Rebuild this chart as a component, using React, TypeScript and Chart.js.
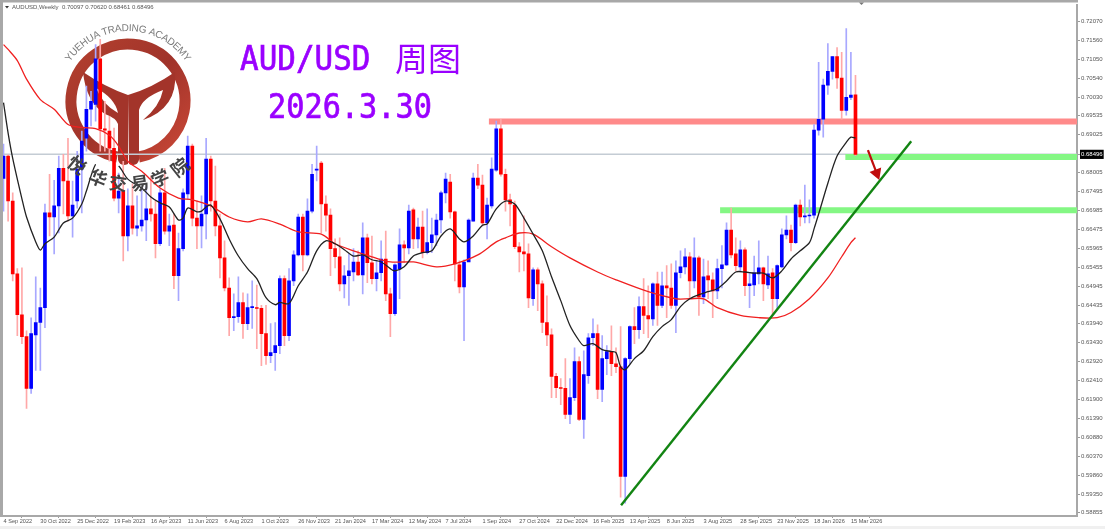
import React, { useEffect, useRef } from "react";
import { Chart, registerables } from "chart.js";

Chart.register(...registerables);

const xTickLabels = ["4 Sep 2022","30 Oct 2022","25 Dec 2022","19 Feb 2023","16 Apr 2023","11 Jun 2023","6 Aug 2023","1 Oct 2023","26 Nov 2023","21 Jan 2024","17 Mar 2024","12 May 2024","7 Jul 2024","1 Sep 2024","27 Oct 2024","22 Dec 2024","16 Feb 2025","13 Apr 2025","8 Jun 2025","3 Aug 2025","28 Sep 2025","23 Nov 2025","18 Jan 2026","15 Mar 2026"];
const xTickStep = 8;
const priceTicks = [0.7207,0.7156,0.7105,0.7054,0.7003,0.69535,0.69025,0.68496,0.68005,0.67495,0.66985,0.66475,0.65965,0.65455,0.64945,0.64435,0.6394,0.6343,0.6292,0.6241,0.619,0.6139,0.6088,0.6037,0.5986,0.5935,0.58855];
const currentPrice = 0.68496;

const opens = [
.6785,.6845,.6724,.6528,.6418,.6359,.6220,.6364,.6397,.6437,
.6692,.6681,.6711,.6812,.6778,.6684,.6724,.6810,.6893,.6971,
.6984,.7107,.6918,.6912,.6866,.6732,.6751,.6630,.6711,.6651,
.6657,.6673,.6703,.6689,.6609,.6746,.6643,.6659,.6523,.6596,
.6743,.6872,.6678,.6657,.6689,.6837,.6724,.6657,.6571,.6490,
.6410,.6413,.6451,.6394,.6437,.6437,.6435,.6367,.6308,.6316,
.6335,.6515,.6362,.6509,.6579,.6681,.6579,.6697,.6807,.6826,
.6716,.6686,.6596,.6574,.6501,.6523,.6533,.6560,.6525,.6625,
.6558,.6515,.6531,.6568,.6474,.6421,.6541,.6606,.6598,.6700,
.6622,.6654,.6585,.6612,.6633,.6673,.6746,.6775,.6695,.6552,
.6493,.6560,.6670,.6786,.6767,.6665,.6711,.6807,.6918,.6796,
.6727,.6713,.6601,.6587,.6582,.6461,.6539,.6501,.6397,.6364,
.6252,.6222,.6220,.6150,.6195,.6292,.6136,.6254,.6356,.6367,
.6217,.6300,.6319,.6286,.6278,.5983,.6300,.6386,.6378,.6440,
.6416,.6407,.6501,.6443,.6496,.6490,.6443,.6531,.6547,.6574,
.6509,.6571,.6466,.6523,.6512,.6482,.6542,.6552,.6646,.6582,
.6547,.6593,.6496,.6498,.6528,.6544,.6498,.6531,.6461,.6547,
.6633,.6646,.6612,.6713,.6681,.6684,.6686,.6915,.6944,.7036,
.7073,.7113,.7055,.6968,.7003,.70097];
const highs = [
.6877,.6848,.6746,.6542,.6544,.6375,.6410,.6520,.6490,.6716,
.6796,.6780,.6845,.6850,.6893,.6778,.6858,.6912,.7033,.7019,
.7145,.7159,.6992,.6952,.6920,.6799,.6831,.6757,.6770,.6738,
.6757,.6762,.6791,.6724,.6757,.6812,.6689,.6689,.6638,.6757,
.6899,.6877,.6724,.6738,.6893,.6845,.6818,.6689,.6617,.6517,
.6474,.6520,.6477,.6474,.6509,.6498,.6443,.6443,.6394,.6397,
.6523,.6523,.6542,.6590,.6689,.6689,.6730,.6823,.6872,.6831,
.6738,.6703,.6622,.6625,.6550,.6582,.6596,.6590,.6665,.6635,
.6630,.6563,.6617,.6643,.6490,.6555,.6649,.6617,.6713,.6705,
.6678,.6697,.6703,.6678,.6689,.6751,.6799,.6796,.6697,.6563,
.6566,.6676,.6799,.6823,.6794,.6732,.6840,.6939,.6944,.6810,
.6743,.6724,.6612,.6684,.6609,.6544,.6544,.6509,.6469,.6380,
.6260,.6246,.6300,.6246,.6329,.6305,.6321,.6367,.6407,.6391,
.6362,.6335,.6388,.6329,.6386,.6303,.6388,.6437,.6466,.6515,
.6496,.6504,.6533,.6533,.6550,.6555,.6563,.6590,.6596,.6585,
.6625,.6576,.6568,.6563,.6531,.6568,.6604,.6665,.6705,.6625,
.6617,.6598,.6531,.6576,.6617,.6546,.6576,.6542,.6552,.6649,
.6684,.6659,.6716,.6727,.6767,.6727,.6930,.7097,.7052,.7148,
.7113,.7137,.7124,.7188,.7124,.7062];
const lows = [
.6697,.6670,.6509,.6362,.6340,.6166,.6206,.6268,.6268,.6383,
.6630,.6582,.6638,.6689,.6670,.6627,.6705,.6692,.6858,.6926,
.6939,.6858,.6858,.6831,.6724,.6692,.6563,.6590,.6635,.6630,
.6643,.6617,.6670,.6571,.6604,.6635,.6604,.6488,.6456,.6590,
.6730,.6657,.6596,.6598,.6622,.6697,.6630,.6517,.6482,.6362,
.6375,.6397,.6354,.6378,.6381,.6327,.6281,.6284,.6289,.6268,
.6313,.6335,.6348,.6496,.6576,.6536,.6576,.6692,.6778,.6638,
.6643,.6523,.6544,.6482,.6463,.6443,.6509,.6523,.6474,.6504,
.6501,.6482,.6509,.6456,.6359,.6416,.6461,.6558,.6582,.6596,
.6598,.6571,.6582,.6585,.6604,.6638,.6719,.6678,.6509,.6477,
.6348,.6563,.6670,.6757,.6657,.6622,.6705,.6804,.6791,.6697,
.6657,.6596,.6533,.6536,.6437,.6443,.6429,.6370,.6335,.6195,
.6195,.6176,.6138,.6125,.6187,.6133,.6085,.6233,.6335,.6192,
.6184,.6257,.6254,.6262,.5927,.5911,.6286,.6340,.6354,.6367,
.6356,.6389,.6389,.6437,.6410,.6435,.6370,.6517,.6528,.6461,
.6490,.6416,.6448,.6461,.6410,.6461,.6490,.6550,.6571,.6536,
.6536,.6469,.6437,.6469,.6501,.6456,.6488,.6416,.6435,.6544,
.6622,.6590,.6609,.6657,.6665,.6665,.6678,.6901,.6896,.7011,
.7052,.7027,.6944,.6955,.6997,.68461];
const closes = [
.6845,.6724,.6528,.6418,.6359,.6220,.6367,.6397,.6437,.6692,
.6681,.6711,.6812,.6778,.6684,.6713,.6810,.6885,.6971,.6992,
.7107,.6918,.6915,.6866,.6732,.6751,.6630,.6711,.6651,.6657,
.6673,.6703,.6689,.6609,.6746,.6643,.6657,.6523,.6596,.6746,
.6872,.6678,.6657,.6689,.6837,.6724,.6657,.6571,.6490,.6410,
.6413,.6451,.6394,.6437,.6440,.6435,.6367,.6308,.6316,.6335,
.6515,.6362,.6509,.6579,.6681,.6579,.6697,.6796,.6810,.6716,
.6686,.6596,.6574,.6501,.6523,.6536,.6560,.6525,.6625,.6558,
.6515,.6531,.6568,.6474,.6421,.6552,.6606,.6598,.6697,.6622,
.6654,.6585,.6612,.6633,.6673,.6746,.6783,.6695,.6555,.6493,
.6560,.6673,.6786,.6767,.6665,.6713,.6810,.6918,.6796,.6727,
.6716,.6601,.6587,.6582,.6463,.6539,.6501,.6397,.6364,.6252,
.6222,.6220,.6150,.6195,.6292,.6136,.6257,.6356,.6367,.6217,
.6300,.6319,.6286,.6278,.5983,.6300,.6386,.6378,.6440,.6416,
.6407,.6501,.6443,.6496,.6490,.6443,.6531,.6547,.6574,.6509,
.6571,.6466,.6520,.6512,.6482,.6542,.6552,.6646,.6579,.6550,
.6593,.6496,.6501,.6531,.6544,.6501,.6528,.6461,.6550,.6633,
.6646,.6612,.6713,.6681,.6684,.6686,.6915,.6944,.7036,.7073,
.7113,.7055,.6968,.7003,.7009,.68496];

const maBlackIndex = [0,1,2,4,5,7,8,9,11,13,15,17,18,20,22,25,27,30,32,34,36,38,39,40,42,43,44,45,47,49,51,53,55,57,59,60,62,64,66,68,70,72,74,76,78,80,82,84,85,87,89,91,93,95,97,99,100,102,104,105,107,109,111,113,115,117,119,121,123,125,126,128,130,132,133,134,135,137,139,141,143,145,147,149,151,153,155,157,159,161,163,165,167,169,171,173,175,176,177,179,181,183,184,185];
const maBlackValue = [.6989,.6907,.6839,.6730,.6681,.6614,.6592,.6609,.6627,.6665,.6678,.6716,.6751,.6823,.6839,.6818,.6783,.6759,.6735,.6719,.6708,.6673,.6678,.6705,.6695,.6697,.6708,.6713,.6676,.6622,.6576,.6542,.6515,.6464,.6445,.6451,.6448,.6496,.6533,.6590,.6617,.6609,.6593,.6576,.6579,.6566,.6560,.6542,.6536,.6547,.6576,.6585,.6590,.6630,.6649,.6622,.6614,.6630,.6659,.6662,.6703,.6724,.6716,.6678,.6635,.6590,.6520,.6456,.6389,.6348,.6335,.6340,.6324,.6319,.6316,.6278,.6270,.6300,.6321,.6359,.6386,.6405,.6440,.6461,.6472,.6480,.6488,.6509,.6533,.6533,.6530,.6530,.6517,.6536,.6568,.6590,.6612,.6649,.6689,.6772,.6845,.6882,.6896,.6893];
const maRedIndex = [0,1,3,5,8,11,14,17,20,23,25,27,30,34,38,41,45,49,53,56,60,64,69,72,76,80,84,89,94,98,103,107,109,112,115,119,123,129,133,140,146,149,152,155,160,164,168,171,175,179,182,184,185];
const maRedValue = [.7145,.7132,.7102,.7052,.6997,.6971,.6930,.6922,.6919,.6901,.6872,.6831,.6804,.6759,.6732,.6727,.6711,.6681,.6668,.6676,.6662,.6641,.6635,.6609,.6590,.6574,.6560,.6560,.6547,.6555,.6579,.6614,.6625,.6638,.6635,.6601,.6571,.6533,.6512,.6480,.6461,.6461,.6461,.6437,.6416,.6410,.6410,.6424,.6461,.6517,.6574,.6612,.6625];

const resistanceLevel = 0.69377;
const resistanceFrom = 105.4;
const upperSupportLevel = 0.68425;
const upperSupportFrom = 182.8;
const lowerSupportLevel = 0.6699;
const lowerSupportFrom = 155.6;
const trendIndex = [134.1, 197.1];
const trendValue = [0.5905, 0.6885];
const arrowIndex = [187.7, 189.6];
const arrowValue = [0.6861, 0.6799];

const xMin = -0.11;
const xMax = 233.1;
const yMin = 0.58764;
const yMax = 0.72526;

const BLUE = "#0000ff";
const RED = "#ff0000";
const pairs = (xs: number[], ys: number[]) => xs.map((x, i) => ({ x, y: ys[i] }));
const hLine = (from: number, level: number) => [{ x: from, y: level }, { x: xMax, y: level }];

const framePlugin = {
  id: "frame",
  beforeDraw(chart: any) {
    const { ctx, chartArea: a, width, height } = chart;
    ctx.save();
    ctx.fillStyle = "#f0f0f0";
    ctx.fillRect(0, 0, width, height);
    ctx.fillStyle = "#ffffff";
    ctx.fillRect(0, 0, width, height - 3);
    ctx.fillStyle = "#a8a8a8";
    ctx.fillRect(0, 0, a.right + 1, 2.5);
    ctx.fillRect(0, 0, 3, a.bottom + 1);
    ctx.restore();
  },
};

const logoPlugin = {
  id: "logo",
  beforeDatasetsDraw(chart: any) {
    const ctx = chart.ctx;
    const cx = 128, cy = 101;
    ctx.save();
    const g = ctx.createLinearGradient(65, 40, 191, 165);
    g.addColorStop(0, "#b5412f");
    g.addColorStop(0.5, "#a0332a");
    g.addColorStop(1, "#cf4a38");
    ctx.strokeStyle = g;
    ctx.fillStyle = "#a3342a";
    ctx.lineWidth = 11;
    ctx.beginPath();
    ctx.arc(cx, cy, 57, Math.PI * 0.5 + 0.19, Math.PI * 0.5 - 0.19);
    ctx.stroke();
    ctx.beginPath();
    ctx.moveTo(83, 72);
    ctx.quadraticCurveTo(105, 87, 128, 95);
    ctx.lineTo(128, 164);
    ctx.quadraticCurveTo(120, 167, 118, 160);
    ctx.lineTo(118, 124);
    ctx.quadraticCurveTo(116, 118, 105, 114);
    ctx.quadraticCurveTo(86, 102, 83, 72);
    ctx.closePath();
    ctx.fill();
    ctx.beginPath();
    ctx.moveTo(128, 95);
    ctx.quadraticCurveTo(152, 88, 175, 72);
    ctx.quadraticCurveTo(178, 108, 143, 120);
    ctx.quadraticCurveTo(160, 106, 163, 90);
    ctx.quadraticCurveTo(142, 98, 139, 110);
    ctx.lineTo(139, 160);
    ctx.quadraticCurveTo(137, 167, 129, 164);
    ctx.closePath();
    ctx.fill();
    ctx.fillStyle = "#ffffff";
    ctx.beginPath();
    ctx.moveTo(96, 88);
    ctx.quadraticCurveTo(103, 105, 118, 113);
    ctx.quadraticCurveTo(115, 98, 96, 88);
    ctx.fill();

    ctx.fillStyle = "#7a7a7a";
    ctx.font = "10px 'Liberation Sans'";
    ctx.textAlign = "center";
    ctx.textBaseline = "alphabetic";
    const ring = "YUEHUA TRADING ACADEMY";
    const widths = [...ring].map((ch) => ctx.measureText(ch).width);
    const total = widths.reduce((a, b) => a + b, 0);
    const start = -146 * Math.PI / 180, end = -34 * Math.PI / 180;
    let run = 0;
    [...ring].forEach((ch, i) => {
      const t = start + (end - start) * (run + widths[i] / 2) / total;
      run += widths[i];
      ctx.save();
      ctx.translate(cx + 70 * Math.cos(t), cy + 70 * Math.sin(t));
      ctx.rotate(t + Math.PI / 2);
      ctx.fillText(ch, 0, 0);
      ctx.restore();
    });
    ctx.restore();
  },
  afterDatasetsDraw(chart: any) {
    const ctx = chart.ctx;
    const cx = 128, cy = 101;
    ctx.save();
    ctx.fillStyle = "#444444";
    ctx.font = "bold 18px 'Noto Sans CJK SC'";
    ctx.textAlign = "center";
    ctx.textBaseline = "middle";
    const seal = ["悦", "华", "交", "易", "学", "院"];
    const sealX = [77, 98, 118, 140, 160, 180];
    const sealY = [165, 178, 183, 183, 178, 167];
    seal.forEach((ch, i) => {
      ctx.save();
      ctx.translate(sealX[i], sealY[i]);
      ctx.rotate(Math.atan2(cx - sealX[i], sealY[i] - cy));
      ctx.fillText(ch, 0, 0);
      ctx.restore();
    });
    ctx.restore();
  },
};

const textPlugin = {
  id: "texts",
  afterDraw(chart: any) {
    const ctx = chart.ctx;
    ctx.save();
    ctx.fillStyle = "#9a00ff";
    ctx.strokeStyle = "#9a00ff";
    ctx.lineWidth = 0.7;
    ctx.textBaseline = "alphabetic";
    ctx.textAlign = "left";
    ctx.font = "34px 'DejaVu Sans Mono'";
    ctx.save();
    ctx.translate(240, 70);
    ctx.scale(0.91, 1);
    ctx.fillText("AUD/USD", 0, 0);
    ctx.strokeText("AUD/USD", 0, 0);
    ctx.restore();
    ctx.save();
    ctx.translate(268, 118);
    ctx.scale(0.89, 1);
    ctx.fillText("2026.3.30", 0, 0);
    ctx.strokeText("2026.3.30", 0, 0);
    ctx.restore();
    ctx.font = "33px 'Noto Sans CJK SC'";
    ctx.fillText("周图", 395, 71);

    ctx.fillStyle = "#555555";
    ctx.font = "6px 'Liberation Sans'";
    ctx.textBaseline = "middle";
    ctx.fillText("AUDUSD,Weekly  0.70097 0.70620 0.68461 0.68496", 12, 7.5);
    ctx.fillStyle = "#333333";
    ctx.beginPath();
    ctx.moveTo(5, 6); ctx.lineTo(9, 6); ctx.lineTo(7, 8.5);
    ctx.fill();
    ctx.fillStyle = "#777777";
    ctx.beginPath();
    ctx.moveTo(859, 2.5); ctx.lineTo(864, 2.5); ctx.lineTo(861.5, 5);
    ctx.fill();
    ctx.restore();
  },
};

export default function App() {
  const ref = useRef<HTMLCanvasElement | null>(null);
  useEffect(() => {
    const candleColor = (i: number, up: string, down: string) => (closes[i] >= opens[i] ? up : down);
    const chart = new Chart(ref.current as HTMLCanvasElement, {
      type: "bar",
      data: {
        datasets: [
          { type: "line", label: "Current", order: 10, data: hLine(xMin, currentPrice), borderColor: "#c4ccd4", borderWidth: 1.5, pointRadius: 0 },
          { type: "line", label: "Resistance", order: 9, data: hLine(resistanceFrom, resistanceLevel), borderColor: "#ff8a8a", borderWidth: 6, pointRadius: 0 },
          { type: "line", label: "Support 1", order: 9, data: hLine(upperSupportFrom, upperSupportLevel), borderColor: "#84f784", borderWidth: 6, pointRadius: 0 },
          { type: "line", label: "Support 2", order: 9, data: hLine(lowerSupportFrom, lowerSupportLevel), borderColor: "#84f784", borderWidth: 6, pointRadius: 0 },
          {
            type: "bar", label: "Wick", order: 8, grouped: false, barThickness: 1,
            data: highs.map((h, i) => ({ x: i, y: [lows[i], h] })),
            backgroundColor: (c: any) => candleColor(c.dataIndex, "#a8a8ff", "#ffa8a8"),
          },
          {
            type: "bar", label: "Body", order: 7, grouped: false, barThickness: 3,
            data: opens.map((o, i) => ({ x: i, y: [o, closes[i]] })),
            backgroundColor: (c: any) => candleColor(c.dataIndex, BLUE, RED),
          },
          { type: "line", label: "MA red", order: 6, data: pairs(maRedIndex, maRedValue), borderColor: "#f02020", borderWidth: 1.3, pointRadius: 0, tension: 0.3 },
          {
            type: "line", label: "MA black", order: 5, data: pairs(maBlackIndex, maBlackValue), borderColor: "#222222", borderWidth: 1.3, pointRadius: 0, tension: 0.3,
            segment: { borderColor: (s: any) => (s.p0.parsed.x >= 20 && s.p1.parsed.x <= 25 ? "rgba(0,0,0,0)" : undefined) },
          },
          { type: "line", label: "Trend", order: 4, data: pairs(trendIndex, trendValue), borderColor: "#128412", borderWidth: 2.4, pointRadius: 0 },
          {
            type: "line", label: "Arrow", order: 3, data: pairs(arrowIndex, arrowValue), borderColor: "#c00d0d", borderWidth: 2.2,
            pointRadius: [0, 5], pointStyle: "triangle", pointRotation: 159, pointBackgroundColor: "#c00d0d", pointBorderColor: "#c00d0d",
          },
        ] as any,
      },
      options: {
        animation: false,
        responsive: false,
        events: [],
        layout: { autoPadding: false, padding: { left: 3, top: 3, right: 1, bottom: 1 } },
        plugins: { legend: { display: false }, tooltip: { enabled: false }, title: { display: false } },
        scales: {
          x: {
            type: "linear", min: xMin, max: xMax, offset: false,
            grid: { drawOnChartArea: false, drawTicks: true, tickLength: 2, color: "#9a9a9a" },
            border: { color: "#a8a8a8", width: 2 },
            afterBuildTicks: (s: any) => { s.ticks = xTickLabels.map((_, i) => ({ value: i * xTickStep })); },
            afterFit: (s: any) => { s.height = 12; },
            ticks: {
              autoSkip: false, maxRotation: 0, minRotation: 0, align: "start", padding: 0.5, color: "#555555",
              font: { family: "'Liberation Sans'", size: 5.6 },
              callback: (v: any) => xTickLabels[Math.round(Number(v) / xTickStep)],
            },
          },
          y: {
            type: "linear", position: "right", min: yMin, max: yMax,
            grid: { drawOnChartArea: false, drawTicks: true, tickLength: 3, color: "#9a9a9a" },
            border: { color: "#a8a8a8", width: 2 },
            afterBuildTicks: (s: any) => { s.ticks = priceTicks.map((value) => ({ value })); },
            afterFit: (s: any) => { s.width = 27; },
            ticks: {
              autoSkip: false, padding: 1, color: (c: any) => (c.tick?.value === currentPrice ? "#ffffff" : "#555555"),
              font: { family: "'Liberation Sans'", size: 6 },
              showLabelBackdrop: (c: any) => c.tick?.value === currentPrice,
              backdropColor: "#000000",
              backdropPadding: { top: 1, bottom: 1, left: 1, right: 1 },
              callback: (v: any) => Number(v).toFixed(5),
            },
          },
        },
      } as any,
      plugins: [framePlugin, logoPlugin, textPlugin],
    });
    return () => chart.destroy();
  }, []);
  return (
    <canvas
      ref={ref}
      width={1105}
      height={529}
      style={{ position: "fixed", left: 0, top: 0, width: 1105, height: 529, display: "block", filter: "blur(0.35px)" }}
    />
  );
}
